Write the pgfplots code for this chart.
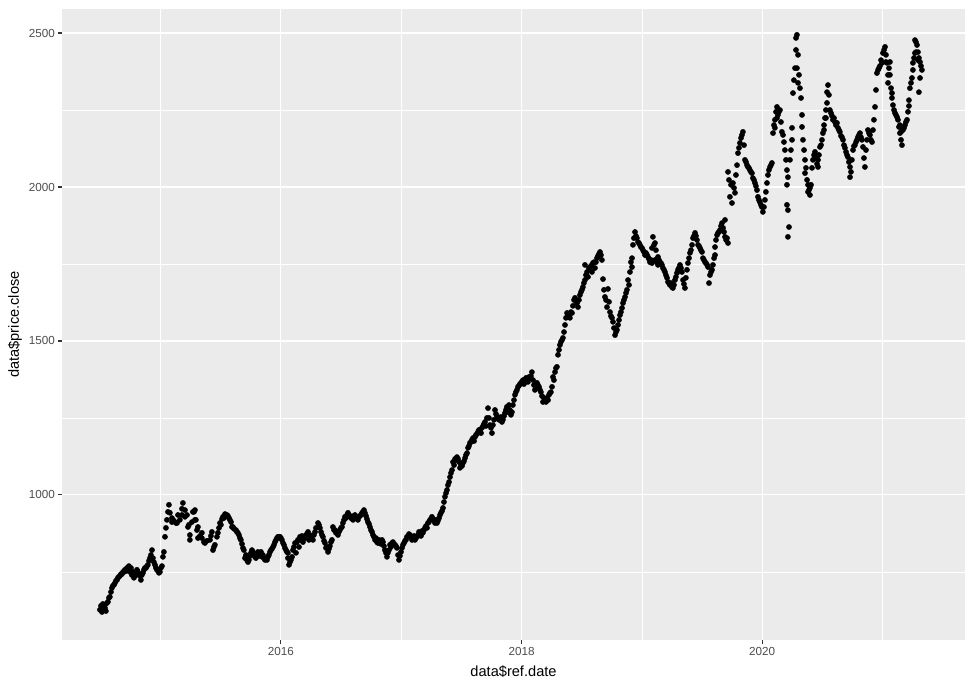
\documentclass[border=0pt]{standalone}
\usepackage{fontspec}
\setmainfont{Liberation Sans}
\usepackage{pgfplots}
\pgfplotsset{compat=1.18}
\definecolor{panelgray}{HTML}{EBEBEB}
\definecolor{ticklab}{HTML}{4D4D4D}
\definecolor{tickcol}{HTML}{333333}
\newcommand\ticksize{\fontsize{11.73}{13}\selectfont}
\newcommand\titlesize{\fontsize{14.67}{16}\selectfont}
\begin{document}
\begin{tikzpicture}
\begin{axis}[
  scale only axis, width=903bp, height=631bp,
  xmin=2014.180, xmax=2021.686, ymin=529, ymax=2578,
  axis background/.style={fill=panelgray},
  axis line style={draw=none},
  tick align=outside, tick pos=left,
  major tick length=3.67bp, minor tick length=0pt,
  tick style={tickcol, line width=1.07bp},
  xtick={2016,2018,2020}, xticklabels={2016,2018,2020},
  minor xtick={2015,2017,2019,2021},
  ytick={1000,1500,2000,2500}, yticklabels={1000,1500,2000,2500},
  minor ytick={750,1250,1750,2250},
  grid=both,
  major grid style={white, line width=1.07bp},
  minor grid style={white, line width=0.53bp},
  xticklabel style={font=\ticksize, text=ticklab},
  yticklabel style={font=\ticksize, text=ticklab},
  xlabel={data\$ref.date}, ylabel={data\$price.close},
  every axis x label/.style={at={(axis description cs:0.5,0)}, yshift=-32bp, anchor=center, font=\titlesize},
  every axis y label/.style={at={(axis description cs:0,0.5)}, xshift=-47bp, rotate=90, anchor=center, font=\titlesize},
]
\addplot[only marks, mark=*, mark size=2.6bp, mark options={fill=black, draw=none}] table {
x y
2014.495 627
2014.504 640
2014.512 620
2014.520 646
2014.529 630
2014.537 643
2014.537 633
2014.545 623
2014.554 649
2014.562 653
2014.570 666
2014.578 669
2014.587 685
2014.595 698
2014.603 705
2014.612 708
2014.620 714
2014.628 721
2014.637 724
2014.645 731
2014.653 734
2014.661 737
2014.670 743
2014.678 743
2014.687 750
2014.695 750
2014.703 757
2014.711 753
2014.720 763
2014.728 757
2014.736 769
2014.744 750
2014.753 763
2014.761 740
2014.770 750
2014.778 731
2014.786 737
2014.794 740
2014.803 757
2014.811 750
2014.820 743
2014.828 737
2014.836 724
2014.844 740
2014.853 747
2014.861 757
2014.869 763
2014.878 763
2014.886 769
2014.894 773
2014.903 786
2014.911 795
2014.919 805
2014.928 821
2014.936 795
2014.944 782
2014.953 773
2014.961 763
2014.969 757
2014.978 753
2014.986 747
2014.994 750
2015.002 763
2015.011 769
2015.019 799
2015.027 815
2015.036 864
2015.044 893
2015.052 919
2015.061 945
2015.069 968
2015.077 942
2015.094 925
2015.094 912
2015.111 916
2015.127 909
2015.136 909
2015.144 935
2015.160 919
2015.177 955
2015.177 935
2015.185 974
2015.202 951
2015.202 929
2015.219 935
2015.227 896
2015.235 903
2015.243 870
2015.243 854
2015.260 912
2015.268 945
2015.277 945
2015.285 951
2015.285 919
2015.293 919
2015.302 886
2015.310 860
2015.310 896
2015.327 867
2015.343 860
2015.343 877
2015.360 847
2015.368 844
2015.368 847
2015.385 851
2015.410 854
2015.418 867
2015.426 880
2015.435 821
2015.443 831
2015.451 838
2015.468 864
2015.476 877
2015.485 893
2015.493 909
2015.501 903
2015.510 922
2015.518 929
2015.526 925
2015.535 938
2015.551 935
2015.559 932
2015.568 925
2015.576 919
2015.585 912
2015.593 896
2015.601 896
2015.610 890
2015.626 886
2015.634 880
2015.642 877
2015.651 870
2015.659 860
2015.667 854
2015.676 841
2015.684 828
2015.692 821
2015.701 795
2015.709 805
2015.717 789
2015.726 782
2015.734 789
2015.742 802
2015.751 812
2015.759 821
2015.767 815
2015.776 805
2015.784 799
2015.792 795
2015.801 808
2015.809 815
2015.817 802
2015.825 805
2015.834 815
2015.842 799
2015.850 805
2015.859 795
2015.867 789
2015.884 789
2015.892 799
2015.900 805
2015.909 815
2015.917 821
2015.925 825
2015.934 831
2015.942 838
2015.950 847
2015.959 854
2015.967 860
2015.975 864
2015.984 864
2015.992 864
2016.000 860
2016.008 854
2016.017 844
2016.025 838
2016.033 828
2016.042 821
2016.050 815
2016.058 795
2016.058 812
2016.067 773
2016.075 782
2016.083 789
2016.092 799
2016.100 821
2016.108 831
2016.117 844
2016.125 812
2016.133 847
2016.141 854
2016.150 831
2016.158 864
2016.166 854
2016.175 867
2016.183 847
2016.200 860
2016.208 870
2016.216 873
2016.225 880
2016.233 854
2016.241 870
2016.250 860
2016.266 854
2016.274 870
2016.283 880
2016.291 893
2016.308 909
2016.316 903
2016.324 893
2016.333 880
2016.341 870
2016.349 864
2016.358 851
2016.366 844
2016.374 828
2016.382 831
2016.391 815
2016.399 825
2016.407 834
2016.416 847
2016.424 854
2016.432 896
2016.441 886
2016.449 886
2016.457 877
2016.474 870
2016.482 880
2016.490 886
2016.499 893
2016.507 896
2016.515 909
2016.524 919
2016.532 929
2016.540 925
2016.549 935
2016.557 942
2016.565 935
2016.574 932
2016.582 925
2016.590 925
2016.599 919
2016.607 932
2016.615 935
2016.624 925
2016.632 925
2016.640 919
2016.649 929
2016.657 932
2016.665 935
2016.674 942
2016.682 945
2016.690 951
2016.698 942
2016.707 932
2016.715 922
2016.723 912
2016.732 906
2016.740 896
2016.748 886
2016.757 880
2016.765 870
2016.773 864
2016.782 854
2016.790 860
2016.798 847
2016.806 844
2016.815 854
2016.823 851
2016.831 841
2016.840 854
2016.848 847
2016.856 834
2016.864 821
2016.873 812
2016.881 799
2016.889 812
2016.898 821
2016.906 838
2016.914 831
2016.923 844
2016.931 847
2016.939 841
2016.948 838
2016.956 834
2016.964 828
2016.973 805
2016.981 789
2016.989 802
2016.998 815
2017.006 828
2017.014 838
2017.023 844
2017.031 851
2017.039 854
2017.047 864
2017.056 864
2017.064 873
2017.072 870
2017.081 864
2017.089 854
2017.097 860
2017.106 867
2017.114 854
2017.122 860
2017.131 864
2017.139 870
2017.147 880
2017.155 873
2017.164 867
2017.172 883
2017.180 877
2017.189 886
2017.197 893
2017.205 899
2017.214 893
2017.222 909
2017.230 912
2017.239 919
2017.247 922
2017.255 929
2017.264 919
2017.272 919
2017.280 909
2017.289 919
2017.297 909
2017.305 916
2017.314 925
2017.322 935
2017.330 942
2017.339 948
2017.347 958
2017.355 977
2017.363 994
2017.372 1006
2017.380 1016
2017.388 1032
2017.397 1042
2017.405 1058
2017.413 1071
2017.422 1081
2017.430 1107
2017.439 1097
2017.447 1117
2017.455 1114
2017.463 1123
2017.472 1117
2017.480 1107
2017.488 1088
2017.497 1097
2017.505 1094
2017.513 1104
2017.522 1110
2017.530 1120
2017.538 1130
2017.547 1136
2017.555 1153
2017.563 1159
2017.571 1169
2017.580 1172
2017.588 1179
2017.597 1185
2017.605 1175
2017.613 1188
2017.621 1195
2017.630 1198
2017.638 1205
2017.646 1211
2017.654 1211
2017.663 1201
2017.671 1218
2017.680 1224
2017.688 1231
2017.696 1237
2017.704 1224
2017.712 1250
2017.721 1282
2017.729 1250
2017.737 1227
2017.746 1218
2017.754 1201
2017.762 1227
2017.771 1244
2017.779 1276
2017.787 1263
2017.796 1253
2017.804 1253
2017.812 1244
2017.820 1250
2017.829 1253
2017.837 1237
2017.845 1244
2017.854 1256
2017.862 1266
2017.870 1276
2017.878 1286
2017.887 1269
2017.895 1292
2017.903 1276
2017.912 1260
2017.920 1269
2017.928 1292
2017.937 1308
2017.945 1325
2017.953 1334
2017.962 1341
2017.970 1351
2017.978 1354
2017.987 1360
2017.995 1364
2018.003 1367
2018.012 1373
2018.020 1360
2018.028 1370
2018.037 1380
2018.045 1373
2018.053 1367
2018.062 1383
2018.070 1380
2018.078 1386
2018.086 1399
2018.095 1373
2018.103 1357
2018.111 1341
2018.120 1354
2018.128 1364
2018.136 1357
2018.145 1351
2018.153 1341
2018.161 1334
2018.170 1321
2018.178 1302
2018.186 1315
2018.195 1308
2018.203 1302
2018.211 1315
2018.220 1308
2018.228 1325
2018.236 1331
2018.244 1334
2018.253 1351
2018.261 1383
2018.269 1373
2018.278 1399
2018.286 1412
2018.294 1416
2018.303 1455
2018.311 1471
2018.319 1487
2018.327 1497
2018.336 1503
2018.344 1510
2018.353 1529
2018.361 1552
2018.369 1575
2018.378 1591
2018.386 1581
2018.394 1584
2018.402 1575
2018.411 1594
2018.419 1591
2018.427 1614
2018.436 1633
2018.444 1640
2018.452 1633
2018.461 1623
2018.469 1610
2018.477 1633
2018.485 1649
2018.494 1659
2018.502 1666
2018.510 1675
2018.518 1688
2018.527 1698
2018.535 1714
2018.544 1724
2018.527 1747
2018.552 1708
2018.560 1737
2018.568 1731
2018.577 1744
2018.585 1724
2018.593 1753
2018.602 1756
2018.610 1737
2018.618 1756
2018.627 1769
2018.635 1776
2018.643 1782
2018.652 1789
2018.660 1779
2018.668 1763
2018.677 1701
2018.685 1666
2018.693 1643
2018.702 1633
2018.710 1610
2018.718 1669
2018.727 1627
2018.735 1594
2018.743 1581
2018.752 1575
2018.760 1562
2018.768 1542
2018.777 1519
2018.785 1529
2018.793 1536
2018.802 1552
2018.810 1568
2018.818 1584
2018.826 1594
2018.835 1607
2018.843 1623
2018.851 1633
2018.860 1643
2018.868 1656
2018.876 1666
2018.885 1698
2018.893 1682
2018.901 1724
2018.909 1756
2018.918 1740
2018.918 1769
2018.926 1812
2018.934 1834
2018.943 1854
2018.951 1841
2018.959 1834
2018.968 1821
2018.976 1818
2018.984 1812
2018.992 1805
2019.001 1802
2019.009 1795
2019.018 1789
2019.026 1779
2019.034 1786
2019.043 1779
2019.051 1773
2019.059 1766
2019.067 1756
2019.076 1763
2019.084 1753
2019.084 1802
2019.092 1838
2019.101 1812
2019.109 1818
2019.109 1763
2019.117 1795
2019.125 1756
2019.134 1773
2019.134 1747
2019.142 1763
2019.150 1756
2019.159 1753
2019.167 1747
2019.175 1737
2019.184 1731
2019.192 1724
2019.200 1714
2019.209 1705
2019.217 1692
2019.225 1688
2019.233 1682
2019.242 1688
2019.250 1675
2019.258 1672
2019.267 1682
2019.275 1698
2019.283 1708
2019.292 1721
2019.300 1731
2019.308 1737
2019.317 1747
2019.325 1737
2019.333 1724
2019.342 1698
2019.350 1685
2019.358 1672
2019.366 1705
2019.375 1731
2019.383 1753
2019.392 1769
2019.400 1786
2019.408 1795
2019.417 1812
2019.425 1834
2019.433 1841
2019.442 1851
2019.450 1841
2019.458 1828
2019.467 1812
2019.475 1808
2019.483 1802
2019.491 1795
2019.500 1789
2019.508 1769
2019.516 1763
2019.525 1756
2019.533 1753
2019.542 1747
2019.550 1740
2019.558 1688
2019.566 1714
2019.575 1724
2019.583 1731
2019.591 1747
2019.600 1769
2019.608 1779
2019.608 1805
2019.616 1828
2019.625 1844
2019.633 1851
2019.641 1854
2019.649 1860
2019.658 1873
2019.666 1883
2019.675 1867
2019.683 1854
2019.691 1838
2019.691 1893
2019.700 1828
2019.708 1834
2019.716 1818
2019.716 2049
2019.724 2023
2019.732 1968
2019.741 2007
2019.749 1948
2019.757 2013
2019.766 1997
2019.774 1981
2019.782 2039
2019.791 2071
2019.799 2110
2019.807 2127
2019.815 2143
2019.824 2159
2019.832 2169
2019.840 2179
2019.849 2136
2019.857 2088
2019.866 2081
2019.874 2071
2019.882 2065
2019.890 2062
2019.898 2055
2019.907 2049
2019.915 2045
2019.923 2029
2019.932 2023
2019.940 2013
2019.948 2003
2019.957 1990
2019.965 1968
2019.973 1958
2019.981 1951
2019.990 1942
2019.998 1935
2020.006 1919
2020.015 1935
2020.023 1958
2020.031 1984
2020.040 2013
2020.048 2039
2020.056 2055
2020.065 2065
2020.073 2071
2020.081 2078
2020.090 2175
2020.098 2201
2020.106 2218
2020.106 2192
2020.115 2244
2020.123 2260
2020.123 2224
2020.131 2234
2020.139 2244
2020.148 2250
2020.156 2211
2020.164 2179
2020.173 2169
2020.181 2146
2020.189 2120
2020.198 2088
2020.206 2055
2020.214 2032
2020.206 2007
2020.206 1942
2020.214 1925
2020.223 1870
2020.214 1838
2020.231 2088
2020.239 2120
2020.248 2153
2020.248 2192
2020.256 2305
2020.264 2347
2020.273 2386
2020.281 2445
2020.281 2484
2020.289 2494
2020.289 2386
2020.298 2429
2020.298 2338
2020.306 2364
2020.314 2321
2020.323 2289
2020.331 2234
2020.331 2195
2020.339 2153
2020.348 2120
2020.356 2088
2020.356 2045
2020.364 2062
2020.373 2023
2020.381 2007
2020.381 1984
2020.389 1990
2020.397 1974
2020.397 1997
2020.406 2007
2020.414 2062
2020.422 2088
2020.431 2104
2020.439 2114
2020.447 2094
2020.456 2075
2020.464 2088
2020.464 2065
2020.472 2104
2020.480 2130
2020.489 2136
2020.497 2153
2020.505 2175
2020.514 2201
2020.514 2185
2020.522 2224
2020.530 2250
2020.530 2224
2020.539 2273
2020.539 2308
2020.547 2331
2020.555 2299
2020.563 2250
2020.572 2240
2020.580 2231
2020.588 2218
2020.597 2224
2020.605 2211
2020.613 2201
2020.622 2208
2020.630 2192
2020.638 2185
2020.646 2179
2020.655 2166
2020.663 2162
2020.672 2153
2020.680 2136
2020.688 2127
2020.697 2114
2020.705 2104
2020.713 2097
2020.721 2081
2020.730 2065
2020.730 2032
2020.738 2049
2020.746 2088
2020.755 2120
2020.763 2133
2020.771 2136
2020.780 2146
2020.788 2153
2020.796 2162
2020.805 2169
2020.813 2175
2020.821 2162
2020.829 2153
2020.838 2130
2020.846 2094
2020.854 2065
2020.863 2120
2020.871 2153
2020.879 2185
2020.888 2175
2020.896 2169
2020.904 2153
2020.913 2146
2020.921 2185
2020.929 2218
2020.938 2260
2020.946 2315
2020.954 2370
2020.963 2380
2020.971 2386
2020.979 2393
2020.988 2412
2020.996 2403
2021.004 2435
2021.013 2445
2021.021 2455
2021.029 2429
2021.029 2406
2021.037 2403
2021.046 2364
2021.054 2386
2021.062 2406
2021.062 2364
2021.046 2338
2021.071 2321
2021.079 2305
2021.079 2289
2021.087 2266
2021.096 2250
2021.104 2240
2021.112 2234
2021.121 2227
2021.129 2218
2021.137 2195
2021.145 2175
2021.145 2201
2021.154 2153
2021.154 2179
2021.162 2136
2021.170 2185
2021.179 2192
2021.187 2201
2021.195 2211
2021.204 2218
2021.212 2244
2021.220 2282
2021.220 2263
2021.228 2321
2021.237 2338
2021.245 2354
2021.253 2403
2021.253 2380
2021.262 2419
2021.270 2435
2021.270 2477
2021.278 2471
2021.278 2438
2021.287 2461
2021.295 2438
2021.295 2412
2021.303 2419
2021.312 2406
2021.320 2393
2021.328 2380
2021.312 2354
2021.303 2308
};
\end{axis}
\pgfresetboundingbox
\path (current axis.south west) ++(-62bp,-46bp) rectangle ++(972bp,686bp);
\end{tikzpicture}
\end{document}
